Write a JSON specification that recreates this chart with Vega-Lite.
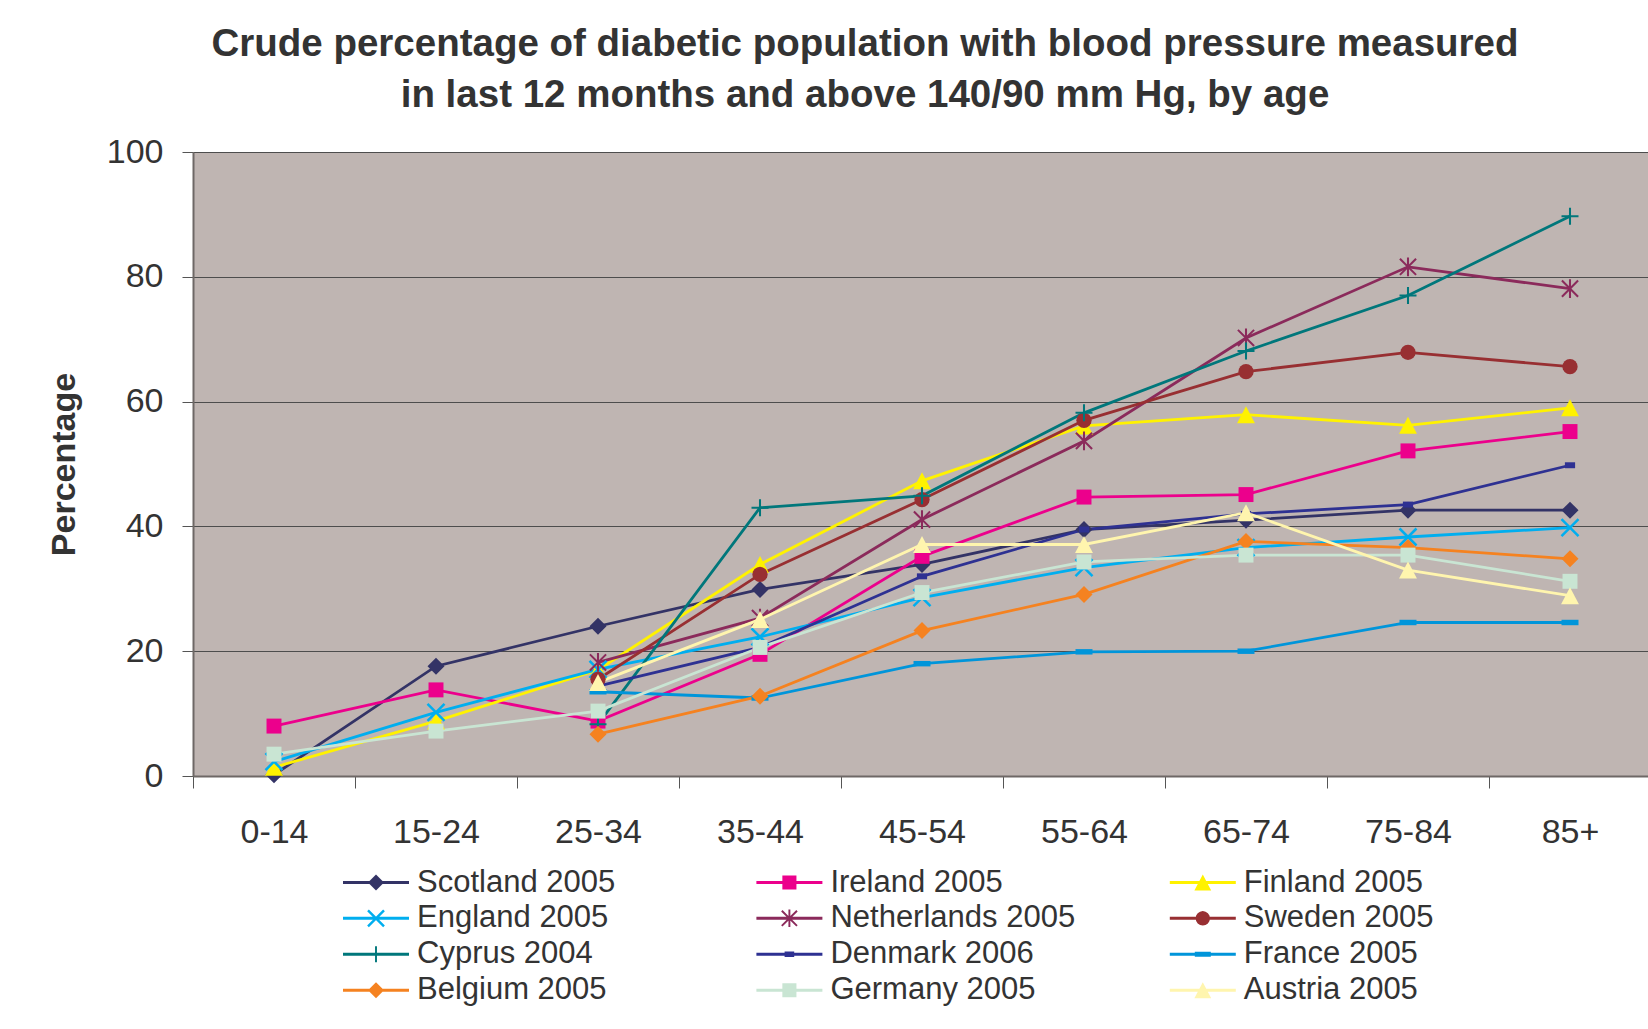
{
  "$schema": "https://vega.github.io/schema/vega-lite/v6.json",
  "autosize": {"type": "none"},
  "width": 1458,
  "height": 624,
  "padding": {"left": 193, "top": 152, "right": 0, "bottom": 253},
  "background": "white",
  "config": {
    "font": "Liberation Sans",
    "view": {"stroke": null, "fill": "#BFB5B2"}
  },
  "title": {
    "text": ["Crude percentage of diabetic population with blood pressure measured", "in last 12 months and above 140/90 mm Hg, by age"],
    "fontSize": 38.5,
    "fontWeight": "bold",
    "color": "#333333",
    "lineHeight": 51.6,
    "anchor": "middle",
    "frame": "group",
    "dx": -57,
    "offset": 19
  },
  "data": {
    "values": [
      {"country": "Scotland 2005", "age": "0-14", "value": 0.2},
      {"country": "Scotland 2005", "age": "15-24", "value": 17.6},
      {"country": "Scotland 2005", "age": "25-34", "value": 24.0},
      {"country": "Scotland 2005", "age": "35-44", "value": 29.9},
      {"country": "Scotland 2005", "age": "45-54", "value": 33.9},
      {"country": "Scotland 2005", "age": "55-64", "value": 39.5},
      {"country": "Scotland 2005", "age": "65-74", "value": 41.0},
      {"country": "Scotland 2005", "age": "75-84", "value": 42.6},
      {"country": "Scotland 2005", "age": "85+", "value": 42.6},
      {"country": "Ireland 2005", "age": "0-14", "value": 8.0},
      {"country": "Ireland 2005", "age": "15-24", "value": 13.8},
      {"country": "Ireland 2005", "age": "25-34", "value": 8.8},
      {"country": "Ireland 2005", "age": "35-44", "value": 19.5},
      {"country": "Ireland 2005", "age": "45-54", "value": 35.2},
      {"country": "Ireland 2005", "age": "55-64", "value": 44.7},
      {"country": "Ireland 2005", "age": "65-74", "value": 45.1},
      {"country": "Ireland 2005", "age": "75-84", "value": 52.1},
      {"country": "Ireland 2005", "age": "85+", "value": 55.2},
      {"country": "Finland 2005", "age": "0-14", "value": 1.4},
      {"country": "Finland 2005", "age": "15-24", "value": 8.8},
      {"country": "Finland 2005", "age": "25-34", "value": 17.0},
      {"country": "Finland 2005", "age": "35-44", "value": 33.9},
      {"country": "Finland 2005", "age": "45-54", "value": 47.3},
      {"country": "Finland 2005", "age": "55-64", "value": 56.1},
      {"country": "Finland 2005", "age": "65-74", "value": 57.9},
      {"country": "Finland 2005", "age": "75-84", "value": 56.2},
      {"country": "Finland 2005", "age": "85+", "value": 59.0},
      {"country": "England 2005", "age": "0-14", "value": 2.3},
      {"country": "England 2005", "age": "15-24", "value": 10.2},
      {"country": "England 2005", "age": "25-34", "value": 17.1},
      {"country": "England 2005", "age": "35-44", "value": 22.3},
      {"country": "England 2005", "age": "45-54", "value": 28.6},
      {"country": "England 2005", "age": "55-64", "value": 33.4},
      {"country": "England 2005", "age": "65-74", "value": 36.6},
      {"country": "England 2005", "age": "75-84", "value": 38.3},
      {"country": "England 2005", "age": "85+", "value": 39.8},
      {"country": "Netherlands 2005", "age": "25-34", "value": 18.2},
      {"country": "Netherlands 2005", "age": "35-44", "value": 25.3},
      {"country": "Netherlands 2005", "age": "45-54", "value": 41.1},
      {"country": "Netherlands 2005", "age": "55-64", "value": 53.7},
      {"country": "Netherlands 2005", "age": "65-74", "value": 70.2},
      {"country": "Netherlands 2005", "age": "75-84", "value": 81.6},
      {"country": "Netherlands 2005", "age": "85+", "value": 78.1},
      {"country": "Sweden 2005", "age": "25-34", "value": 15.5},
      {"country": "Sweden 2005", "age": "35-44", "value": 32.3},
      {"country": "Sweden 2005", "age": "45-54", "value": 44.3},
      {"country": "Sweden 2005", "age": "55-64", "value": 57.0},
      {"country": "Sweden 2005", "age": "65-74", "value": 64.8},
      {"country": "Sweden 2005", "age": "75-84", "value": 67.9},
      {"country": "Sweden 2005", "age": "85+", "value": 65.6},
      {"country": "Cyprus 2004", "age": "25-34", "value": 8.3},
      {"country": "Cyprus 2004", "age": "35-44", "value": 43.0},
      {"country": "Cyprus 2004", "age": "45-54", "value": 44.9},
      {"country": "Cyprus 2004", "age": "55-64", "value": 58.2},
      {"country": "Cyprus 2004", "age": "65-74", "value": 68.1},
      {"country": "Cyprus 2004", "age": "75-84", "value": 77.0},
      {"country": "Cyprus 2004", "age": "85+", "value": 89.7},
      {"country": "Denmark 2006", "age": "25-34", "value": 14.4},
      {"country": "Denmark 2006", "age": "35-44", "value": 20.6},
      {"country": "Denmark 2006", "age": "45-54", "value": 32.0},
      {"country": "Denmark 2006", "age": "55-64", "value": 39.5},
      {"country": "Denmark 2006", "age": "65-74", "value": 42.0},
      {"country": "Denmark 2006", "age": "75-84", "value": 43.5},
      {"country": "Denmark 2006", "age": "85+", "value": 49.8},
      {"country": "France 2005", "age": "25-34", "value": 13.5},
      {"country": "France 2005", "age": "35-44", "value": 12.5},
      {"country": "France 2005", "age": "45-54", "value": 18.0},
      {"country": "France 2005", "age": "55-64", "value": 19.9},
      {"country": "France 2005", "age": "65-74", "value": 20.0},
      {"country": "France 2005", "age": "75-84", "value": 24.6},
      {"country": "France 2005", "age": "85+", "value": 24.6},
      {"country": "Belgium 2005", "age": "25-34", "value": 6.7},
      {"country": "Belgium 2005", "age": "35-44", "value": 12.8},
      {"country": "Belgium 2005", "age": "45-54", "value": 23.3},
      {"country": "Belgium 2005", "age": "55-64", "value": 29.1},
      {"country": "Belgium 2005", "age": "65-74", "value": 37.6},
      {"country": "Belgium 2005", "age": "75-84", "value": 36.6},
      {"country": "Belgium 2005", "age": "85+", "value": 34.8},
      {"country": "Germany 2005", "age": "0-14", "value": 3.5},
      {"country": "Germany 2005", "age": "15-24", "value": 7.2},
      {"country": "Germany 2005", "age": "25-34", "value": 10.4},
      {"country": "Germany 2005", "age": "35-44", "value": 20.6},
      {"country": "Germany 2005", "age": "45-54", "value": 29.4},
      {"country": "Germany 2005", "age": "55-64", "value": 34.3},
      {"country": "Germany 2005", "age": "65-74", "value": 35.4},
      {"country": "Germany 2005", "age": "75-84", "value": 35.4},
      {"country": "Germany 2005", "age": "85+", "value": 31.2},
      {"country": "Austria 2005", "age": "25-34", "value": 15.0},
      {"country": "Austria 2005", "age": "35-44", "value": 25.1},
      {"country": "Austria 2005", "age": "45-54", "value": 37.1},
      {"country": "Austria 2005", "age": "55-64", "value": 37.1},
      {"country": "Austria 2005", "age": "65-74", "value": 42.2},
      {"country": "Austria 2005", "age": "75-84", "value": 33.0},
      {"country": "Austria 2005", "age": "85+", "value": 28.9}
    ]
  },
  "encoding": {
    "x": {
      "field": "age",
      "type": "nominal",
      "scale": {"type": "band", "domain": ["0-14", "15-24", "25-34", "35-44", "45-54", "55-64", "65-74", "75-84", "85+"], "paddingInner": 0, "paddingOuter": 0},
      "axis": {
        "title": null,
        "tickBand": "extent",
        "tickSize": 12,
        "tickColor": "#555555",
        "domainColor": "#6e6866",
        "domainWidth": 2,
        "labelFontSize": 34,
        "labelColor": "#333333",
        "labelPadding": 27,
        "labelAngle": 0,
        "grid": false
      }
    },
    "y": {
      "field": "value",
      "type": "quantitative",
      "scale": {"domain": [0, 100], "nice": false},
      "axis": {
        "title": "Percentage",
        "values": [0, 20, 40, 60, 80, 100],
        "grid": true,
        "gridColor": "#4d4d4d",
        "gridWidth": 1.2,
        "tickSize": 11,
        "tickColor": "#555555",
        "domainColor": "#6e6866",
        "domainWidth": 2,
        "labelFontSize": 34,
        "labelColor": "#333333",
        "labelPadding": 19,
        "titleFontSize": 34,
        "titleFontWeight": "bold",
        "titleColor": "#333333",
        "titleX": -129,
        "titleY": 312,
        "titleAngle": -90,
        "titleBaseline": "middle",
        "titleAlign": "center"
      }
    },
    "color": {
      "field": "country",
      "type": "nominal",
      "scale": {
        "domain": ["Scotland 2005", "Ireland 2005", "Finland 2005", "England 2005", "Netherlands 2005", "Sweden 2005", "Cyprus 2004", "Denmark 2006", "France 2005", "Belgium 2005", "Germany 2005", "Austria 2005"],
        "range": ["#333366", "#EC008C", "#FFF200", "#00AEEF", "#8B2A5B", "#982F32", "#00777B", "#2E3192", "#0095DA", "#F58220", "#C9E5D3", "#FFF5AE"]
      },
      "legend": {
        "orient": "none",
        "legendX": 167.5,
        "legendY": 714.8,
        "columns": 3,
        "direction": "horizontal",
        "title": null,
        "gridAlign": "all",
        "columnPadding": 93.4,
        "rowPadding": 4.0,
        "padding": 0,
        "symbolSize": 256,
        "symbolStrokeWidth": 0,
        "symbolOpacity": 1,
        "labelFontSize": 31,
        "labelColor": "#333333",
        "labelOffset": 25.5,
        "labelLimit": 400,
        "symbolType": {"expr": "['M-4.125,-0.18H4.125V0.18H-4.125Z M0,-1L1,0L0,1L-1,0Z', 'M-4.125,-0.18H4.125V0.18H-4.125Z M-0.88,-0.88H0.88V0.88H-0.88Z', 'M-4.125,-0.18H4.125V0.18H-4.125Z M0,-1L1.05,1H-1.05Z', 'M-4.125,-0.18H4.125V0.18H-4.125Z M-0.894,-1.106L1.106,0.894L0.894,1.106L-1.106,-0.894Z M-0.894,1.106L-1.106,0.894L0.894,-1.106L1.106,-0.894Z', 'M-4.125,-0.18H4.125V0.18H-4.125Z M-0.865,-1.035L1.035,0.865L0.865,1.035L-1.035,-0.865Z M-0.865,1.035L-1.035,0.865L0.865,-1.035L1.035,-0.865Z M-0.12,-1.1H0.12V1.1H-0.12Z', 'M-4.125,-0.18H4.125V0.18H-4.125Z M0.9,0L0.8315,0.3444L0.6364,0.6364L0.3444,0.8315L0,0.9L-0.3444,0.8315L-0.6364,0.6364L-0.8315,0.3444L-0.9,0L-0.8315,-0.3444L-0.6364,-0.6364L-0.3444,-0.8315L0,-0.9L0.3444,-0.8315L0.6364,-0.6364L0.8315,-0.3444Z', 'M-4.125,-0.18H4.125V0.18H-4.125Z M-0.12,-1H0.12V1H-0.12Z', 'M-4.125,-0.18H4.125V0.18H-4.125Z M-0.6,-0.35H0.6V0.35H-0.6Z', 'M-4.125,-0.18H4.125V0.18H-4.125Z M-1,-0.32H1V0.32H-1Z', 'M-4.125,-0.18H4.125V0.18H-4.125Z M0,-1L1,0L0,1L-1,0Z', 'M-4.125,-0.18H4.125V0.18H-4.125Z M-0.88,-0.88H0.88V0.88H-0.88Z', 'M-4.125,-0.18H4.125V0.18H-4.125Z M0,-1L1.05,1H-1.05Z'][indexof(['Scotland 2005', 'Ireland 2005', 'Finland 2005', 'England 2005', 'Netherlands 2005', 'Sweden 2005', 'Cyprus 2004', 'Denmark 2006', 'France 2005', 'Belgium 2005', 'Germany 2005', 'Austria 2005'], datum.value)]"}
      }
    }
  },
  "layer": [
    {
      "mark": {"type": "line", "strokeWidth": 2.8},
      "encoding": {
        "detail": {"field": "country", "type": "nominal"}
      }
    },
    {
      "mark": {"type": "point", "filled": true, "opacity": 1, "size": 289},
      "encoding": {
        "shape": {
          "field": "country",
          "type": "nominal",
          "scale": {
            "domain": ["Austria 2005", "Germany 2005", "Belgium 2005", "France 2005", "Denmark 2006", "Cyprus 2004", "Sweden 2005", "Netherlands 2005", "England 2005", "Finland 2005", "Ireland 2005", "Scotland 2005"],
            "range": [
              "M0,-1L1.05,1H-1.05Z",
              "M-0.88,-0.88H0.88V0.88H-0.88Z",
              "M0,-1L1,0L0,1L-1,0Z",
              "M-1,-0.32H1V0.32H-1Z",
              "M-0.6,-0.35H0.6V0.35H-0.6Z",
              "M-1,-0.12H1V0.12H-1Z M-0.12,-1H0.12V1H-0.12Z",
              "M0.9,0L0.8315,0.3444L0.6364,0.6364L0.3444,0.8315L0,0.9L-0.3444,0.8315L-0.6364,0.6364L-0.8315,0.3444L-0.9,0L-0.8315,-0.3444L-0.6364,-0.6364L-0.3444,-0.8315L0,-0.9L0.3444,-0.8315L0.6364,-0.6364L0.8315,-0.3444Z",
              "M-0.865,-1.035L1.035,0.865L0.865,1.035L-1.035,-0.865Z M-0.865,1.035L-1.035,0.865L0.865,-1.035L1.035,-0.865Z M-0.12,-1.1H0.12V1.1H-0.12Z",
              "M-0.894,-1.106L1.106,0.894L0.894,1.106L-1.106,-0.894Z M-0.894,1.106L-1.106,0.894L0.894,-1.106L1.106,-0.894Z",
              "M0,-1L1.05,1H-1.05Z",
              "M-0.88,-0.88H0.88V0.88H-0.88Z",
              "M0,-1L1,0L0,1L-1,0Z"
            ]
          },
          "legend": null
        }
      }
    }
  ]
}
